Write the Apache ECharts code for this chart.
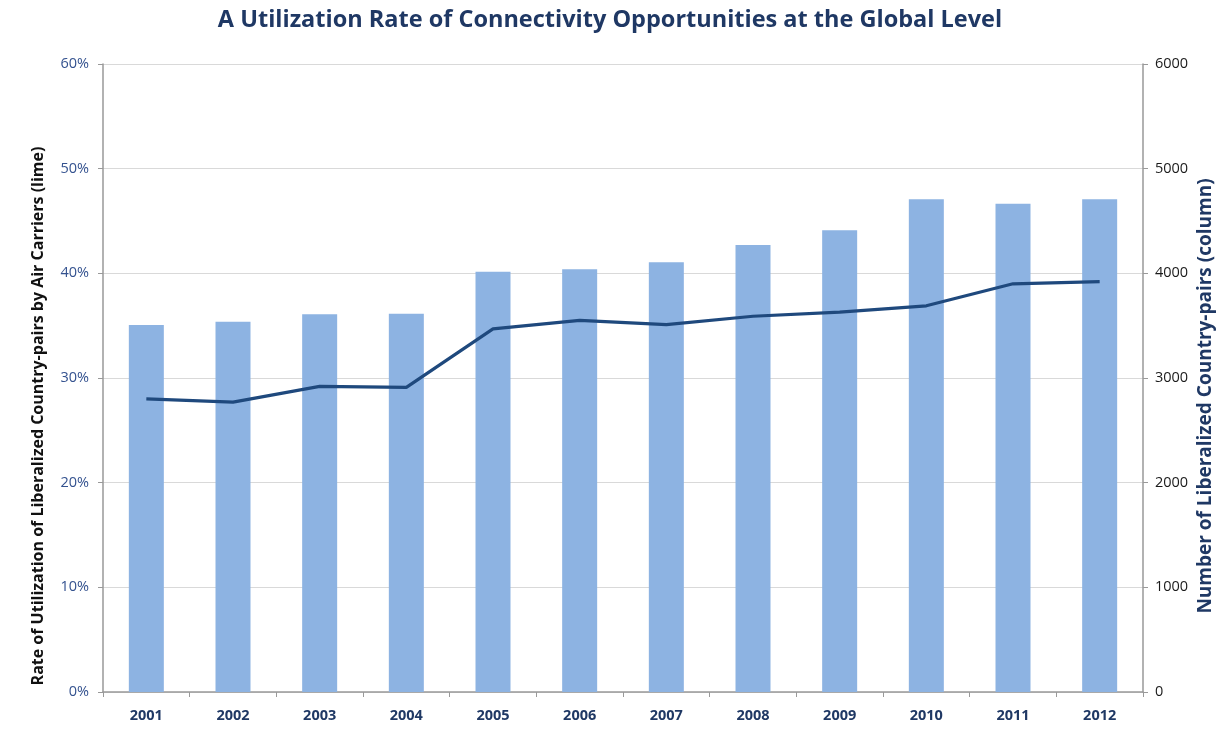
<!DOCTYPE html>
<html>
<head>
<meta charset="utf-8">
<script src="https://cdn.jsdelivr.net/npm/echarts@6/dist/echarts.min.js"></script>
<style>html,body{margin:0;padding:0;background:#fff}#c{width:1220px;height:732px}</style>
</head>
<body>
<div id="c"></div>
<script>
const years = ['2001','2002','2003','2004','2005','2006','2007','2008','2009','2010','2011','2012'];
const pairCounts = [3506, 3538, 3608, 3614, 4016, 4038, 4105, 4271, 4411, 4707, 4666, 4707];
const utilRate = [28.0, 27.7, 29.2, 29.1, 34.7, 35.5, 35.1, 35.9, 36.3, 36.9, 39.0, 39.2];

const FONT = '"Open Sans", "Noto Sans", sans-serif';
const chart = echarts.init(document.getElementById('c'));
chart.setOption({
  animation: false,
  title: {
    text: 'A Utilization Rate of Connectivity Opportunities at the Global Level',
    left: 'center', top: 3,
    textStyle: { fontFamily: FONT, fontSize: 23.5, fontWeight: 'bold', color: '#1F3864' }
  },
  grid: { left: 103, right: 77, top: 64, bottom: 40 },
  xAxis: {
    type: 'category', data: years,
    axisLine: { lineStyle: { color: '#999', width: 1.5 } },
    axisTick: { show: true, length: 5, lineStyle: { color: '#999' } },
    axisLabel: { fontFamily: FONT, fontSize: 14.5, fontWeight: 'bold', color: '#1F3864', margin: 16 }
  },
  yAxis: [
    {
      type: 'value', min: 0, max: 60, interval: 10,
      axisLine: { show: true, lineStyle: { color: '#999', width: 1.5 } },
      axisTick: { show: true, length: 5, lineStyle: { color: '#999' } },
      axisLabel: { formatter: '{value}%', fontFamily: FONT, fontSize: 14.5, color: '#34528F', margin: 14 },
      splitLine: { lineStyle: { color: '#d9d9d9', width: 1 } }
    },
    {
      type: 'value', min: 0, max: 6000, interval: 1000, position: 'right',
      axisLine: { show: true, lineStyle: { color: '#999', width: 1.5 } },
      axisTick: { show: true, length: 5, lineStyle: { color: '#999' } },
      axisLabel: { formatter: function (v) { return String(v); }, fontFamily: FONT, fontSize: 14.5, color: '#1a1a1a', margin: 12 },
      splitLine: { show: false }
    }
  ],
  graphic: [
    {
      type: 'text', x: 38, y: 416, rotation: Math.PI / 2,
      style: {
        text: 'Rate of Utilization of Liberalized Country-pairs by Air Carriers (lime)',
        fontFamily: FONT, fontSize: 16, fontWeight: 'bold', fill: '#111',
        align: 'center', verticalAlign: 'middle'
      }
    },
    {
      type: 'text', x: 1206, y: 396, rotation: Math.PI / 2,
      style: {
        text: 'Number of Liberalized Country-pairs (column)',
        fontFamily: FONT, fontSize: 19, fontWeight: 'bold', fill: '#1F3864',
        align: 'center', verticalAlign: 'middle'
      }
    }
  ],
  series: [
    {
      type: 'bar', yAxisIndex: 1, data: pairCounts, barWidth: 35,
      itemStyle: { color: '#8DB3E2' }, z: 1
    },
    {
      type: 'line', yAxisIndex: 0, data: utilRate, symbol: 'none',
      lineStyle: { color: '#1F497D', width: 3.2 }, z: 3
    }
  ]
});
</script>
</body>
</html>
